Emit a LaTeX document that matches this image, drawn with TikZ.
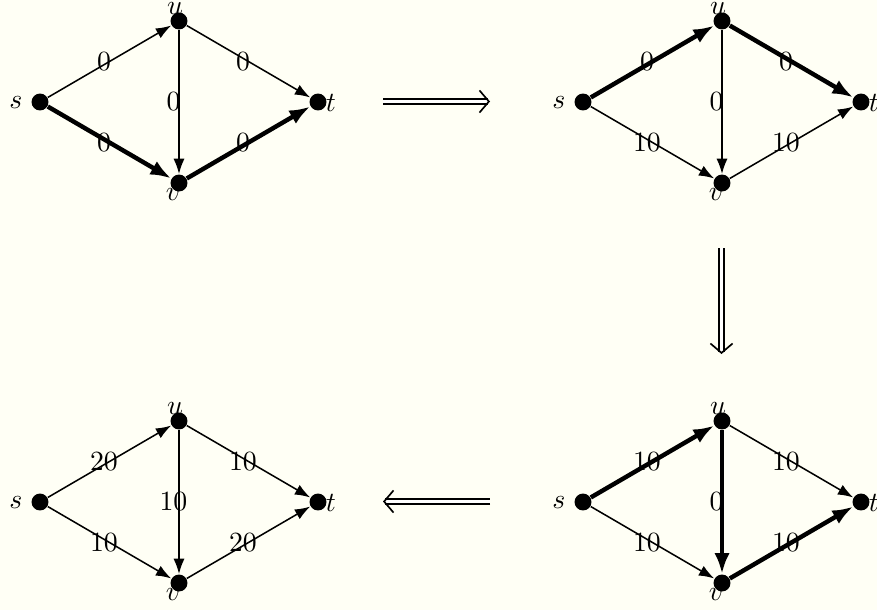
\documentclass[tikz,border=0pt]{standalone}
\usetikzlibrary{arrows.meta}
\definecolor{bgcream}{RGB}{255,255,245}
\begin{document}
\begin{tikzpicture}[x=0.36pt,y=-0.36pt,
  dot/.style={circle,fill=black,inner sep=0pt,minimum size=6.1pt},
  vlabel/.style={inner sep=0pt},
  edgeline/.style={line width=0.55pt,-{Latex[length=5.5pt,width=4pt]}},
  flowpath/.style={line width=1.6pt,-{Latex[length=7.5pt,width=5.5pt]}},
  elabel/.style={midway,inner sep=0pt,xshift=-2pt},
  bigarrow/.style={double,double distance=1.4pt,line width=0.45pt,
    -{Straight Barb[line width=0.6pt,length=3.4pt,width=8pt]}}
]
\fill[bgcream] (0,0) rectangle (877,610);
\useasboundingbox (0,0) rectangle (877,610);

% ---------- top-left ----------
\begin{scope}[shift={(0,0)}]
\node[dot] (as) at (40,102) {};
\node[dot] (au) at (179,21) {};
\node[dot] (av) at (179,183) {};
\node[dot] (at) at (318,102) {};
\node[vlabel] (asl) at (16,103) {$s$};
\node[vlabel] (aul) at (175,8.5) {$u$};
\node[vlabel] (avl) at (173,195) {$v$};
\node[vlabel] (atl) at (331,103) {$t$};
\draw[edgeline] (as) -- (au) node[elabel] (asu) {0};
\draw[edgeline] (au) -- (at) node[elabel] (aut) {0};
\draw[edgeline] (au) -- (av) node[elabel] (auv) {0};
\draw[flowpath] (as) -- (av) node[elabel] (asv) {0};
\draw[flowpath] (av) -- (at) node[elabel] (avt) {0};
\end{scope}

% ---------- top-right ----------
\begin{scope}[shift={(543,0)}]
\node[dot] (bs) at (40,102) {};
\node[dot] (bu) at (179,21) {};
\node[dot] (bv) at (179,183) {};
\node[dot] (bt) at (318,102) {};
\node[vlabel] (bsl) at (16,103) {$s$};
\node[vlabel] (bul) at (175,8.5) {$u$};
\node[vlabel] (bvl) at (173,195) {$v$};
\node[vlabel] (btl) at (331,103) {$t$};
\draw[flowpath] (bs) -- (bu) node[elabel] (bsu) {0};
\draw[flowpath] (bu) -- (bt) node[elabel] (but) {0};
\draw[edgeline] (bu) -- (bv) node[elabel] (buv) {0};
\draw[edgeline] (bs) -- (bv) node[elabel] (bsv) {10};
\draw[edgeline] (bv) -- (bt) node[elabel] (bvt) {10};
\end{scope}

% ---------- bottom-right ----------
\begin{scope}[shift={(543,400)}]
\node[dot] (cs) at (40,102) {};
\node[dot] (cu) at (179,21) {};
\node[dot] (cv) at (179,183) {};
\node[dot] (ct) at (318,102) {};
\node[vlabel] (csl) at (16,103) {$s$};
\node[vlabel] (cul) at (175,8.5) {$u$};
\node[vlabel] (cvl) at (173,195) {$v$};
\node[vlabel] (ctl) at (331,103) {$t$};
\draw[flowpath] (cs) -- (cu) node[elabel] (csu) {10};
\draw[edgeline] (cu) -- (ct) node[elabel] (cut) {10};
\draw[flowpath] (cu) -- (cv) node[elabel] (cuv) {0};
\draw[edgeline] (cs) -- (cv) node[elabel] (csv) {10};
\draw[flowpath] (cv) -- (ct) node[elabel] (cvt) {10};
\end{scope}

% ---------- bottom-left ----------
\begin{scope}[shift={(0,400)}]
\node[dot] (ds) at (40,102) {};
\node[dot] (du) at (179,21) {};
\node[dot] (dv) at (179,183) {};
\node[dot] (dt) at (318,102) {};
\node[vlabel] (dsl) at (16,103) {$s$};
\node[vlabel] (dul) at (175,8.5) {$u$};
\node[vlabel] (dvl) at (173,195) {$v$};
\node[vlabel] (dtl) at (331,103) {$t$};
\draw[edgeline] (ds) -- (du) node[elabel] (dsu) {20};
\draw[edgeline] (du) -- (dt) node[elabel] (dut) {10};
\draw[edgeline] (du) -- (dv) node[elabel] (duv) {10};
\draw[edgeline] (ds) -- (dv) node[elabel] (dsv) {10};
\draw[edgeline] (dv) -- (dt) node[elabel] (dvt) {20};
\end{scope}

% ---------- transition arrows ----------
\coordinate (r1) at (383,101.5);
\coordinate (r2) at (490,101.5);
\coordinate (d1) at (721.5,248);
\coordinate (d2) at (721.5,354);
\coordinate (l1) at (490,501.5);
\coordinate (l2) at (383,501.5);
\draw[bigarrow] (r1) -- (r2);
\draw[bigarrow] (d1) -- (d2);
\draw[bigarrow] (l1) -- (l2);
\end{tikzpicture}
\end{document}
